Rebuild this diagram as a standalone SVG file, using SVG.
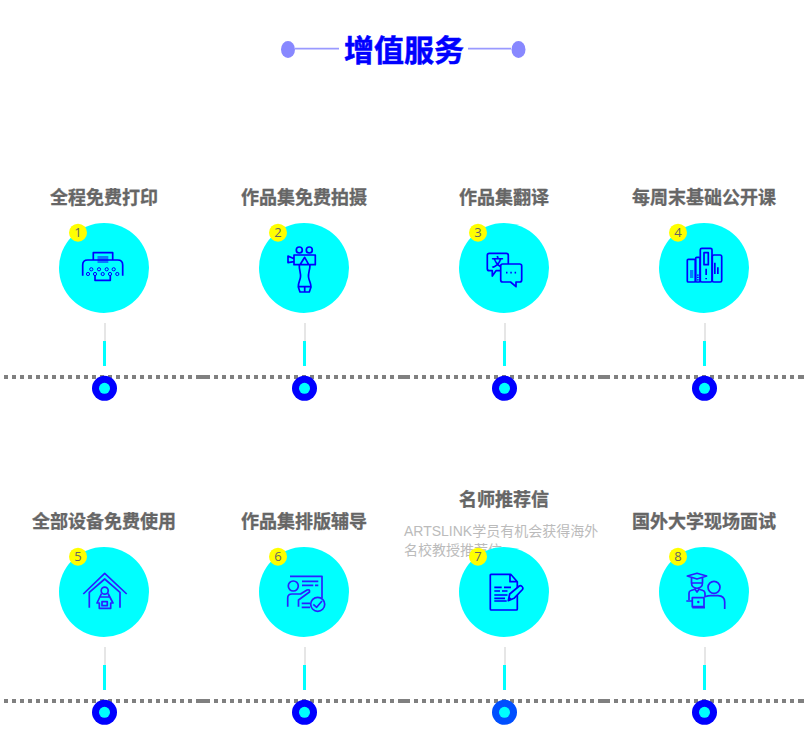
<svg xmlns="http://www.w3.org/2000/svg" width="808" height="746" viewBox="0 0 808 746">
<style>
text{font-family:"Noto Sans CJK SC","Liberation Sans",sans-serif}
.t{font-size:18px;font-weight:700;fill:#666;stroke:#666;stroke-width:.3;text-anchor:middle}
.n{font-family:"Open Sans","Liberation Sans",sans-serif;font-size:13px;fill:#666;text-anchor:middle}
.p{font-family:"Liberation Sans","Noto Sans CJK SC",sans-serif;font-size:14px;fill:#bbb}
.c{fill:#0ff}.b{fill:#ff0}
.i{fill:none;stroke:#00f;stroke-width:1.7;stroke-linejoin:round}
.j{fill:none;stroke:#2b20ff;stroke-width:1.7;stroke-linejoin:round}
.s1{stroke:#e6e6e6;stroke-width:2}.s2{stroke:#0ff;stroke-width:3}
.d{fill:none;stroke:#808080;stroke-width:4}
.da{stroke-dasharray:4 4}
.o{fill:#00f}
</style>
<rect width="808" height="746" fill="#fff"/>
<g id="heading">
<path d="M295 48.700H339M468 48.700H511" stroke="#9a9aff" stroke-width="1.800" fill="none"/>
<ellipse cx="288" cy="49.500" rx="7" ry="8.500" fill="#8888ff"/>
<ellipse cx="518.500" cy="49.500" rx="7" ry="8.500" fill="#8888ff"/>
<text x="404" y="61" font-size="30" font-weight="700" fill="#00f" stroke="#00f" stroke-width=".5" text-anchor="middle">增值服务</text>
</g>
<g id="connectors">
<path class="d da" d="M4 377H198M214 377H398M414 377H598M614 377H798M4 701H198M214 701H398M414 701H598M614 701H798"/>
<path class="d" d="M198 377H210M398 377H410M598 377H610M798 377H804M198 701H210M398 701H410M598 701H610M798 701H804M400 701H408"/>
<path class="s1" d="M105 323V341M305 323V341M505 323V341M705 323V341M105 647V665M305 647V665M505 647V665M705 647V665"/>
<path class="s2" d="M104.500 341V366M304.500 341V366M504.500 341V366M704.500 341V366M104.500 665V690M304.500 665V690M504.500 665V690M704.500 665V690"/>
</g>
<g id="node1">
<text class="t" x="104" y="204">全程免费打印</text>
<circle class="c" cx="104" cy="268" r="45"/>
<path class="i" d="M93.300 260V252.700H112.700V260"/>
<rect x="97.500" y="256" width="10.800" height="7" fill="#0a7cff"/>
<path class="i" d="M82.700 275.700V265Q82.700 260 87.700 260H117.700Q122.700 260 122.700 265V275.700M95 275V280.300H110.300V275"/>
<g class="i" style="stroke-width:1"><circle cx="91.300" cy="269.300" r="1.600"/><circle cx="99" cy="269.300" r="1.600"/><circle cx="106.700" cy="269.300" r="1.600"/><circle cx="113.700" cy="269.300" r="1.600"/><circle cx="88" cy="274" r="1.600"/><circle cx="95" cy="274" r="1.600"/><circle cx="102.700" cy="274" r="1.600"/><circle cx="110" cy="274" r="1.600"/><circle cx="117.300" cy="274" r="1.600"/></g>
<circle class="b" cx="78" cy="232.700" r="9"/><text class="n" x="78" y="237.300">1</text>
<circle class="o" cx="104.500" cy="388.300" r="12.500"/><circle class="c" cx="104.500" cy="388.300" r="5.500"/>
</g>
<g id="node2">
<text class="t" x="304" y="204">作品集免费拍摄</text>
<circle class="c" cx="304" cy="268" r="45"/>
<path class="i" d="M294 255H315.300V264.700H294ZM304.700 257.300L300 264.700H308.700ZM288 256L294 258.700V261.700L288 262.700ZM299.300 264.700C299 270 301 273 300.500 277C300 281 298 283 298.300 287L300 292H309.300L311 287C311 283 309 281 308.500 277C308 273 310 270 310 264.700M298.300 286.700H311M304.700 286.700V292"/>
<circle class="i" cx="299.300" cy="250" r="3"/><circle class="i" cx="309.300" cy="250" r="3"/>
<circle class="b" cx="278" cy="232.700" r="9"/><text class="n" x="278" y="237.300">2</text>
<circle class="o" cx="304.500" cy="388.300" r="12.500"/><circle class="c" cx="304.500" cy="388.300" r="5.500"/>
</g>
<g id="node3">
<text class="t" x="504" y="204">作品集翻译</text>
<circle class="c" cx="504" cy="268" r="45"/>
<path class="i" d="M489.300 253.300H506.300Q508.300 253.300 508.300 255.300V268.700Q508.300 270.700 506.300 270.700H496L492.300 276V270.700H489.300Q487.300 270.700 487.300 268.700V255.300Q487.300 253.300 489.300 253.300Z"/>
<text x="497.500" y="267" font-size="12" font-weight="700" fill="#00f" text-anchor="middle">文</text>
<path class="i" style="fill:#0ff" d="M502.700 264H519.700Q521.700 264 521.700 266V280Q521.700 282 519.700 282H516V286.700L510.500 282H502.700Q500.700 282 500.700 280V266Q500.700 264 502.700 264Z"/>
<path class="i" stroke-dasharray="1.500 2.800" d="M506 272.700H516.500"/>
<circle class="b" cx="478" cy="232.700" r="9"/><text class="n" x="478" y="237.300">3</text>
<circle class="o" cx="504.500" cy="388.300" r="12.500"/><circle class="c" cx="504.500" cy="388.300" r="5.500"/>
</g>
<g id="node4">
<text class="t" x="704" y="204">每周末基础公开课</text>
<circle class="c" cx="704" cy="268" r="45"/>
<g class="i"><rect x="687.300" y="259.300" width="8" height="22.700" rx="1"/><rect x="695.700" y="257.300" width="4.400" height="24.700" rx="1"/><rect x="700.300" y="248.300" width="11.700" height="33.700" rx="1.500"/><rect x="712.300" y="255" width="9.400" height="27" rx="1.500"/><rect x="704" y="252.700" width="4.300" height="12"/></g>
<path fill="#00f" d="M705.300 268.700H707V275H705.300ZM705.300 278H707V279.300H705.300ZM714 262.700H715.700V274H714ZM717 267.300H718.700V274H717ZM690 270.500H693.300V271.500H690ZM690 272.500H693.300V273.500H690ZM690 274.500H693.300V275.500H690ZM690 276.500H693.300V277.500H690ZM697 274.500H698.700V275.700H697ZM697 276.800H698.700V278H697ZM697 279.200H698.700V280.400H697Z"/>
<circle class="b" cx="678" cy="232.700" r="9"/><text class="n" x="678" y="237.300">4</text>
<circle class="o" cx="704.500" cy="388.300" r="12.500"/><circle class="c" cx="704.500" cy="388.300" r="5.500"/>
</g>
<g id="node5">
<text class="t" x="104" y="528">全部设备免费使用</text>
<circle class="c" cx="104" cy="592" r="45"/>
<path class="j" d="M83.300 594L104.700 573.300L126.700 594M89.300 607.700V592.300L104.700 579L120 592.300V607.700"/>
<circle class="j" cx="104.700" cy="590.700" r="3.500"/>
<path class="j" d="M101.500 593.500L97 603H99.300V608.300H110.700V603H113L108 593.500M99.800 597H109.500"/>
<rect class="j" x="102" y="601.700" width="5.300" height="4"/>
<circle class="b" cx="78" cy="556.700" r="9"/><text class="n" x="78" y="561.300">5</text>
<circle class="o" cx="104.500" cy="712.300" r="12.500"/><circle class="c" cx="104.500" cy="712.300" r="5.500"/>
</g>
<g id="node6">
<text class="t" x="304" y="528">作品集排版辅导</text>
<circle class="c" cx="304" cy="592" r="45"/>
<path class="j" d="M290 576.300H322V598.300M302 581.300H318.300M302 585.300H313.300M315 585.300H318.300M287.700 606.700V598Q287.700 594 292 594H300.500L307 590Q310 589 309.500 592L298.500 600V606.700M301.700 603.300H310M301.700 607.300H310"/>
<circle class="j" cx="293.300" cy="586" r="5"/>
<circle class="j" cx="317.700" cy="604.300" r="7" style="fill:#0ff"/>
<path class="j" d="M313.300 604.300L316.700 607.300L322 601"/>
<circle class="b" cx="278" cy="556.700" r="9"/><text class="n" x="278" y="561.300">6</text>
<circle class="o" cx="304.500" cy="712.300" r="12.500"/><circle class="c" cx="304.500" cy="712.300" r="5.500"/>
</g>
<g id="node7">
<text class="t" x="504" y="506">名师推荐信</text>
<text class="p" x="404" y="536">ARTSLINK学员有机会获得海外</text>
<text class="p" x="404" y="555">名校教授推荐信</text>
<circle class="c" cx="504" cy="592" r="45"/>
<path class="i" d="M490.300 575Q490.300 574.300 491 574.300H510.700L517.300 581.700V609Q517.300 610 516.300 610H491.300Q490.300 610 490.300 609ZM510 574.300V581.700H517.300M494.300 587.300H501.700M504 587.300H511M494.300 591H500M502 591H507.500M494.300 595H507.500M494.300 598.300H505M494.300 601H506.700"/>
<path class="i" style="fill:#0ff" d="M508.300 600.700L509.700 594L519.300 586Q520.500 585 522 586.500T522.500 589.500L514 598.300Z"/>
<path fill="#00f" d="M508.300 600.700L509.200 596.500L512 599.300Z"/>
<circle class="b" cx="478" cy="556.700" r="9"/><text class="n" x="478" y="561.300">7</text>
<circle cx="504.500" cy="712.300" r="12.500" fill="#004fff"/><circle class="c" cx="504.500" cy="712.300" r="5.500"/>
</g>
<g id="node8">
<text class="t" x="704" y="528">国外大学现场面试</text>
<circle class="c" cx="704" cy="592" r="45"/>
<path class="j" d="M687.300 576L697 573.300L706.700 576L697 579ZM691.500 577V583C691.500 590 702.500 590 702.500 583V577M692 583H702M689 600V593Q689 591 691 590.500L695 589.300L697 592L699 589.300L703 590.500Q705 591 705 594V597M686.300 601H692.300M692.300 597.700H704V606.700H692.300ZM692.300 607.700H705M704.700 596.700Q708 595.700 711 595.700H718Q724.700 596 724.700 602V609"/>
<circle class="j" cx="714" cy="587.300" r="6"/>
<circle cx="698.300" cy="602" r="1.200" fill="#2b20ff"/>
<circle class="b" cx="678" cy="556.700" r="9"/><text class="n" x="678" y="561.300">8</text>
<circle class="o" cx="704.500" cy="712.300" r="12.500"/><circle class="c" cx="704.500" cy="712.300" r="5.500"/>
</g>
</svg>
